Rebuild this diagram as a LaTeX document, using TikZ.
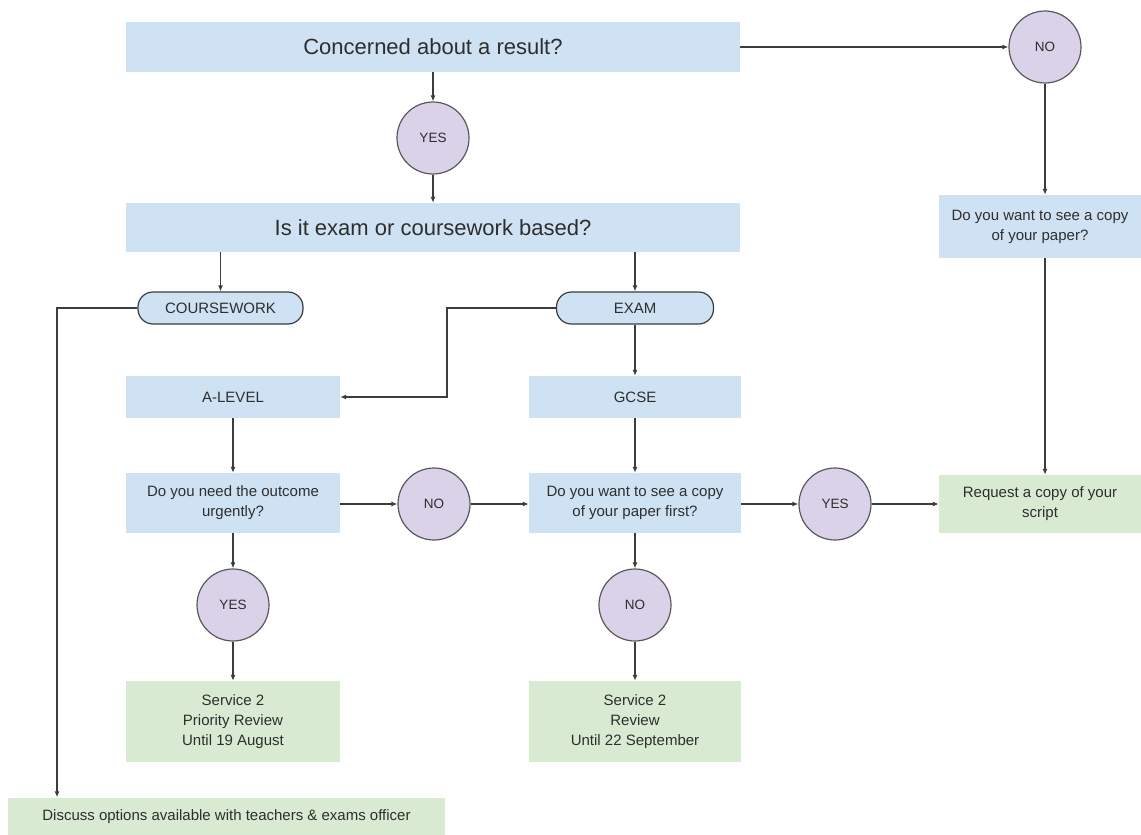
\documentclass[tikz,border=0pt]{standalone}
\usepackage{fontspec}
\setmainfont{Liberation Sans}
\usepackage{tikz}
\usetikzlibrary{positioning}
\usetikzlibrary{arrows.meta}
\definecolor{boxblue}{HTML}{CFE2F3}
\definecolor{boxgreen}{HTML}{D9EAD3}
\definecolor{answerfill}{HTML}{D9D2E9}
\definecolor{linegray}{HTML}{3C3C3C}
\definecolor{textgray}{HTML}{2E2E2E}

\begin{document}
\begin{tikzpicture}[x=1pt,y=-1pt,
    bluebox/.style={fill=boxblue,text=textgray,align=center,inner sep=0pt,font=\fontsize{15}{20}\selectfont},
    greenbox/.style={bluebox,fill=boxgreen},
    bigtext/.style={font=\fontsize{22}{26}\selectfont},
    pill/.style={bluebox,draw=linegray,line width=1.2pt,rounded corners=15pt,minimum height=32},
    answer/.style={circle,draw=linegray!85,line width=1.2pt,fill=answerfill,text=textgray,minimum size=72,inner sep=0pt,font=\fontsize{13.5}{15}\selectfont},
    arr/.style={-{Latex[length=6pt,width=5pt]},draw=linegray,line width=1.2pt}]
    \useasboundingbox (0,0) rectangle (1141,835); % page size of the reference
    % questions and answers
    \node[bluebox,bigtext,minimum width=614,minimum height=50] (concern) at (433,47) {Concerned about a result?};
    \node[answer] (yestop) at (433,138) {YES};
    \node[answer] (notop) at (1045,47) {NO};
    \node[bluebox,bigtext,minimum width=614,minimum height=49] (basis) at (433,227.5) {Is it exam or coursework based?};
    \node[bluebox,minimum width=202,minimum height=63] (seecopy) at (1040,226.5) {Do you want to see a copy\\of your paper?};
    \node[greenbox,minimum width=202,minimum height=58] (request) at (1040,504) {Request a copy of your\\script};
    \node[pill,minimum width=165] (cwork) at (220.5,308) {COURSEWORK};
    \node[pill,minimum width=157] (exam) at (635,308) {EXAM};
    \node[bluebox,minimum width=214,minimum height=42] (alevel) at (233,397) {A-LEVEL};
    \node[bluebox,minimum width=212,minimum height=42] (gcse) at (635,397) {GCSE};
    \node[bluebox,minimum width=214,minimum height=60] (urgent) at (233,503) {Do you need the outcome\\urgently?};
    \node[answer] (nomid) at (434,504) {NO};
    \node[bluebox,minimum width=212,minimum height=60] (firstcopy) at (635,503) {Do you want to see a copy\\of your paper first?};
    \node[answer] (yesmid) at (835,504) {YES};
    \node[answer] (yeslow) at (233,605) {YES};
    \node[answer] (nolow) at (635,605) {NO};
    % outcomes
    \node[greenbox,minimum width=214,minimum height=81] (priority) at (233,721.5) {Service 2\\Priority Review\\Until 19 August};
    \node[greenbox,minimum width=212,minimum height=81] (review) at (635,721.5) {Service 2\\Review\\Until 22 September};
    \node[greenbox,minimum width=437,minimum height=38] (discuss) at (226.5,816.5) {Discuss options available with teachers \& exams officer};
    % bends
    \coordinate (cworkbend) at (57,308);
    \coordinate (exambend) at (447,308);
    % connectors
    \draw[arr] (concern) -- (yestop);
    \draw[arr] (yestop) -- (basis);
    \draw[arr] (concern) -- (notop);
    \draw[arr] (notop) -- (notop |- seecopy.north);
    \draw[arr] (seecopy.south -| notop) -- (request.north -| notop);
    \draw[arr] (basis.south -| cwork) -- (cwork);
    \draw[arr] (basis.south -| exam) -- (exam);
    \draw[arr] (cwork.west) -- (cworkbend) -- (cworkbend |- discuss.north);
    \draw[arr] (exam.west) -- (exambend) |- (alevel.east);
    \draw[arr] (exam) -- (gcse);
    \draw[arr] (alevel) -- (urgent);
    \draw[arr] (gcse) -- (firstcopy);
    \draw[arr] (urgent.east |- nomid) -- (nomid);
    \draw[arr] (nomid) -- (nomid -| firstcopy.west);
    \draw[arr] (firstcopy.east |- yesmid) -- (yesmid);
    \draw[arr] (yesmid) -- (yesmid -| request.west);
    \draw[arr] (urgent) -- (yeslow);
    \draw[arr] (yeslow) -- (priority);
    \draw[arr] (firstcopy) -- (nolow);
    \draw[arr] (nolow) -- (review);
\end{tikzpicture}
\end{document}
